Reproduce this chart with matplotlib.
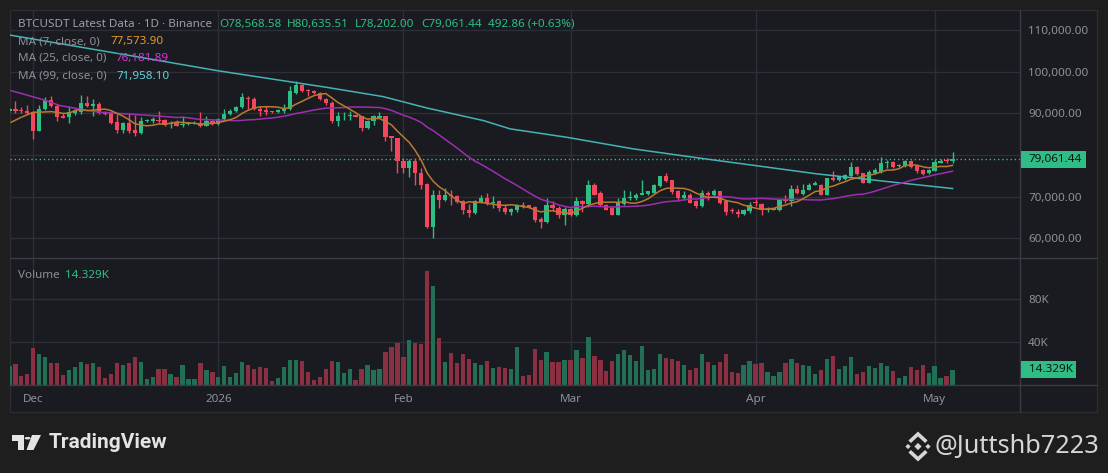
import numpy as np
import pandas as pd
import matplotlib
matplotlib.use("Agg")
import matplotlib.pyplot as plt
import matplotlib.dates as mdates
from matplotlib.patches import Rectangle, Polygon, Circle
from matplotlib.lines import Line2D

plt.rcParams['font.family'] = ['Noto Sans', 'DejaVu Sans']

# ---------------- data ----------------
start_date = "2025-11-27"

opens = [90500, 91100, 90900, 90700, 90400, 85900, 91100, 93300, 91800, 89400,
         89100, 90200, 90300, 92500, 91700, 92400, 90300, 90100, 88000, 86100,
         87800, 86100, 85300, 88100, 88200, 88500, 88500, 87500, 87700, 87300,
         87400, 87700, 87800, 87000, 88300, 87500, 88700, 89900, 90500, 91500,
         93700, 93600, 91100, 90900, 90500, 90300, 90700, 91000, 95000, 96900,
         95600, 95500, 94900, 93500, 92600, 88100, 89300, 89400, 89600, 89300,
         86500, 88100, 89000, 89300, 84500, 84100, 78700, 76900, 78700, 75700,
         73100, 62700, 70500, 69200, 70300, 70100, 68900, 66900, 66100, 68700,
         69800, 68500, 68900, 67300, 66300, 66700, 67900, 67900, 67600, 64600,
         63900, 67900, 67300, 65500, 67000, 65500, 68900, 68300, 72700, 70800,
         68100, 67200, 65700, 68200, 69700, 69800, 70400, 70600, 71000, 72500,
         74900, 73900, 71300, 69600, 70500, 68900, 67700, 70800, 70300, 71300,
         68900, 66700, 66300, 65900, 66500, 68800, 68300, 66900, 66900, 66900,
         69100, 68900, 71900, 70700, 71700, 72900, 72900, 70500, 74500, 73900,
         74300, 74900, 77100, 75700, 73400, 75700, 75900, 78100, 78300, 77400,
         77300, 78700, 77300, 76300, 75700, 76200, 78100, 78800, 78568.58]

highs = [91400, 93100, 91500, 92100, 90500, 92100, 93900, 94100, 92300, 90100,
         91700, 91100, 94500, 94300, 93500, 92700, 90500, 90300, 89900, 87900,
         90000, 89600, 89200, 88600, 89100, 90500, 88700, 88300, 88500, 89500,
         88000, 88100, 90300, 89300, 88500, 88800, 91000, 91100, 91700, 94900,
         94300, 93900, 91700, 91700, 90700, 91100, 92300, 96500, 97900, 97100,
         95900, 95700, 95100, 93700, 92900, 90400, 90300, 90700, 89900, 89500,
         88400, 89600, 90400, 89500, 84700, 84200, 79300, 79100, 79300, 76900,
         73200, 71700, 71500, 72100, 71500, 70400, 69300, 68300, 69100, 70500,
         70900, 70100, 69100, 68000, 67300, 68300, 68700, 68000, 67800, 65100,
         69700, 68900, 67700, 67500, 67300, 69900, 69300, 73900, 73300, 71300,
         68300, 67700, 69600, 71700, 71300, 70900, 73900, 71400, 73100, 75000,
         75800, 74100, 71500, 71300, 70900, 69100, 71500, 71300, 71900, 71400,
         69100, 67300, 67100, 67100, 68700, 69500, 68400, 67500, 67400, 69300,
         70300, 72700, 72700, 73100, 73400, 73700, 73100, 74500, 76100, 75000,
         75500, 78300, 77300, 75800, 76500, 76900, 79500, 78900, 78500, 77900,
         78900, 78900, 77500, 76700, 76600, 79100, 79100, 79300, 80635.51]

lows = [90200, 90100, 90100, 89900, 83800, 85700, 90900, 91600, 88100, 88900,
        87700, 89700, 89900, 91500, 89300, 89900, 89700, 87500, 85300, 85300,
        85300, 84500, 85100, 87900, 87700, 87700, 86900, 86500, 86900, 86800,
        87200, 87500, 86700, 86900, 87300, 87300, 88500, 89700, 90300, 91300,
        91100, 90900, 89300, 89700, 90100, 90100, 90100, 90800, 94700, 95100,
        94300, 94700, 93300, 92000, 87800, 87100, 88500, 88500, 89100, 85900,
        86300, 87300, 88900, 83300, 81100, 75700, 75700, 74700, 72900, 71800,
        62500, 60100, 67300, 68900, 68100, 68500, 65900, 65100, 65900, 68500,
        68000, 67300, 66500, 65800, 65500, 66300, 67300, 67200, 63900, 62500,
        63700, 66700, 64900, 63100, 65300, 65300, 66300, 67500, 70300, 67700,
        66800, 65500, 65500, 68000, 69300, 69300, 70300, 70300, 70900, 72400,
        73500, 70700, 68900, 69300, 68500, 67300, 67500, 69100, 70100, 68300,
        65500, 66100, 65100, 65700, 66100, 67700, 65700, 66300, 66700, 66500,
        68500, 67700, 70700, 70500, 71500, 72700, 70400, 70400, 73700, 73700,
        73900, 74800, 75200, 73300, 73300, 75500, 75700, 76900, 77000, 77100,
        77200, 76800, 75700, 75100, 75500, 76100, 78000, 78100, 78202.00]

closes = [91100, 90500, 90600, 90100, 85900, 91100, 93300, 91700, 89100, 89000,
          90300, 90600, 92500, 91700, 92400, 90100, 89900, 87700, 86100, 87800,
          85900, 85300, 88100, 88400, 88600, 88300, 87300, 87700, 87100, 87500,
          87800, 87800, 87000, 88300, 87500, 88700, 89900, 90500, 91500, 93900,
          93500, 91100, 90700, 90300, 90300, 90900, 91300, 95300, 96900, 95300,
          95300, 94900, 93400, 92500, 88100, 89300, 89500, 89600, 89100, 86500,
          88300, 89300, 89300, 84300, 84100, 78500, 76900, 78700, 75700, 72900,
          62700, 70500, 69200, 70300, 70100, 68700, 66700, 66100, 68900, 69800,
          68500, 68600, 67300, 66300, 67000, 67900, 67700, 67300, 64300, 63900,
          67900, 67300, 65500, 67000, 65500, 68900, 68300, 72700, 70500, 67900,
          66900, 65700, 68400, 69800, 70000, 70500, 70800, 71300, 72700, 74900,
          73700, 71100, 69700, 70500, 68600, 67700, 70800, 70500, 71300, 68600,
          66300, 66500, 65900, 66700, 68100, 68600, 66700, 67100, 67200, 69100,
          68900, 71900, 70900, 71700, 72900, 73300, 70500, 74400, 74100, 74900,
          75100, 77100, 75400, 73400, 75900, 76500, 78200, 78300, 77100, 77600,
          78700, 77100, 76100, 75500, 76500, 78300, 78700, 78570, 79061.44]

volumes_k = [18, 19.7, 8.4, 10.3, 34.7, 29, 26, 20.6, 20.6, 9.4,
             14, 17, 21.6, 19.7, 20.6, 17, 6.6, 10.3, 20.6, 18.8,
             20.6, 26, 21.6, 5.6, 7.5, 15, 15, 10.3, 7.5, 18.8,
             5.6, 5.6, 20.6, 14, 12.2, 7.5, 17.8, 7.5, 11.3, 21.6,
             18.8, 15, 17, 16, 3.8, 6.6, 17, 23.4, 23.4, 22.5,
             12.2, 4.7, 7.5, 15, 22.5, 21.6, 11.3, 15, 4.7, 15,
             18.8, 14, 15, 31, 35.6, 39.4, 26.3, 42.2, 39.4, 38.4,
             106, 92, 44, 21.6, 30, 20.6, 29, 24.4, 20.6, 18.8,
             22.5, 16, 17, 16, 15, 35.6, 8.4, 9.4, 33.8, 23.4,
             31, 21.6, 21.6, 23.4, 23.4, 32.8, 25.3, 45, 27.2, 23.4,
             13.1, 22.5, 29, 32.8, 28, 22.5, 36.6, 14, 15, 29,
             25.3, 24.4, 22.5, 18.8, 14, 16, 29, 21.6, 18.8, 21.6,
             29, 12.2, 11.3, 18.8, 22.5, 19.7, 20.6, 12.2, 8.4, 12.2,
             20.6, 24.4, 20.6, 18.8, 17.8, 10.3, 14, 24.4, 27.2, 15,
             17.8, 26.3, 10.3, 12.2, 17.8, 16, 20.6, 17.8, 13.1, 6.6,
             8.4, 17, 14, 18.8, 11.3, 17.8, 6.6, 8.4, 14.329]

ma7_head_idx = [0.3, 2, 4]
ma7_head_val = [87900, 89100, 90300]
ma25_head_idx = [0.3, 5.7, 8.5, 12.4, 15.2, 19.6]
ma25_head_val = [95500, 93300, 91900, 90900, 90300, 89900]
ma99_idx = [0, 20, 35, 47.6, 53.1, 62.6, 69.9, 79.4, 83.9, 93.3, 104.5, 115.7,
            125.7, 135.2, 146.4, 158]
ma99_val = [108870, 103980, 100260, 97500, 96300, 94060, 91340, 88300, 86300,
            84300, 81500, 79260, 77340, 75500, 73740, 71958.10]

month_ticks = ["2025-12-01", "2026-01-01", "2026-02-01", "2026-03-01",
               "2026-04-01", "2026-05-01"]
month_labels = ["Dec", "2026", "Feb", "Mar", "Apr", "May"]
price_ticks = [60000, 70000, 80000, 90000, 100000, 110000]
volume_ticks_k = [40, 80]
volume_tick_labels = ["40K", "80K"]

# ---------------- styling ----------------
OUTER = '#1e1e1e'
BG = '#1a1b20'
BORDER = '#2d2d2f'
GRID = '#2c2f38'
SEP = '#393c46'
AXTXT = '#8e919a'
LBL = '#8c8f98'
UP = '#2ebd85'
DN = '#f6465d'
VUP = '#226f55'
VDN = '#8b2f42'
MA7_LINE, MA25_LINE, MA99_LINE = '#b87a30', '#9c2fb0', '#45b3b6'
MA7_TXT, MA25_TXT, MA99_TXT = '#e8992e', '#d23ad6', '#5fd4d6'
FS = 8.4

W, H = 1108, 473
fig = plt.figure(figsize=(W / 100, H / 100), dpi=100)
fig.patch.set_facecolor(OUTER)


def fx(x):
    return x / W


def fy(y):
    return 1 - y / H


def ptext(x, y, s, **kw):
    kw.setdefault('va', 'center')
    kw.setdefault('ha', 'left')
    kw.setdefault('fontsize', FS)
    return fig.text(fx(x), fy(y), s, **kw)


def prect(x0, y0, x1, y1, **kw):
    r = Rectangle((fx(x0), fy(y1)), fx(x1) - fx(x0), fy(y0) - fy(y1),
                  transform=fig.transFigure, **kw)
    fig.patches.append(r)
    return r


def pline(xs, ys, **kw):
    ln = Line2D([fx(v) for v in xs], [fy(v) for v in ys],
                transform=fig.transFigure, **kw)
    fig.lines.append(ln)
    return ln


def ppoly(pts, color):
    fig.patches.append(Polygon([(fx(a), fy(b)) for a, b in pts], closed=True,
                               transform=fig.transFigure, facecolor=color,
                               edgecolor='none'))


# chart widget background
prect(10, 10, 1097, 412, facecolor=BG, edgecolor=BORDER, lw=1, zorder=-5)

# axes
ax_p = fig.add_axes([fx(10), fy(258), fx(1020) - fx(10), fy(10) - fy(258)])
ax_v = fig.add_axes([fx(10), fy(385), fx(1020) - fx(10), fy(258) - fy(385)])
for ax in (ax_p, ax_v):
    ax.set_facecolor('none')
    for s in ax.spines.values():
        s.set_visible(False)
    ax.set_axisbelow(True)

o = np.array(opens, float)
h = np.array(highs, float)
l = np.array(lows, float)
c = np.array(closes, float)
v = np.array(volumes_k, float)
n = len(c)
dates = pd.date_range(start_date, periods=n, freq="D")
x = mdates.date2num(dates.values)
x0 = x[0]
up = c >= o
ccol = np.where(up, UP, DN)
vcol = np.where(up, VUP, VDN)

# candles
ax_p.vlines(x, l, h, colors=ccol, lw=1, zorder=3)
body_h = np.maximum(np.abs(c - o), 130)
ax_p.bar(x, body_h, bottom=np.minimum(o, c), width=0.72, color=ccol, lw=0, zorder=4)

# moving averages
ma7 = pd.Series(c).rolling(7).mean().values
ma25 = pd.Series(c).rolling(25).mean().values
ma7_x = np.concatenate([x0 + np.array(ma7_head_idx), x[6:]])
ma7_y = np.concatenate([ma7_head_val, ma7[6:]])
ma25_x = np.concatenate([x0 + np.array(ma25_head_idx), x[24:]])
ma25_y = np.concatenate([ma25_head_val, ma25[24:]])
ax_p.plot(x0 + np.array(ma99_idx), ma99_val, color=MA99_LINE, lw=1.1, zorder=5)
ax_p.plot(ma25_x, ma25_y, color=MA25_LINE, lw=1.1, zorder=5)
ax_p.plot(ma7_x, ma7_y, color=MA7_LINE, lw=1.1, zorder=6)

# last price line
ax_p.axhline(c[-1], color=UP, lw=1, ls=(0, (1, 2)), zorder=2)

# limits
xl = (x0 + 0.1, x0 + 169.3)
ax_p.set_xlim(xl)
ax_v.set_xlim(xl)
ax_p.set_ylim(55262, 114880)
ax_v.set_ylim(0, 118.1)

month_x = mdates.date2num(pd.to_datetime(month_ticks).values)

# price axis
ax_p.set_xticks(month_x)
ax_p.tick_params(axis='x', length=0, labelbottom=False)
ax_p.yaxis.set_ticks_position('right')
ax_p.set_yticks(price_ticks)
ax_p.set_yticklabels([f"{t:,.2f}" for t in price_ticks])
ax_p.tick_params(axis='y', length=0, pad=5.8, labelsize=FS, labelcolor=AXTXT)
ax_p.grid(True, color=GRID, lw=1)

# volume pane
ax_v.bar(x, v, width=0.72, color=vcol, lw=0, zorder=3)
ax_v.set_xticks(month_x)
ax_v.set_xticklabels(month_labels)
ax_v.tick_params(axis='x', length=0, pad=6.3, labelsize=FS, labelcolor=AXTXT)
ax_v.yaxis.set_ticks_position('right')
ax_v.set_yticks(volume_ticks_k)
ax_v.set_yticklabels(volume_tick_labels)
ax_v.tick_params(axis='y', length=0, pad=5.8, labelsize=FS, labelcolor=AXTXT)
ax_v.grid(True, color=GRID, lw=1)

# separators
pline([1020, 1020], [10, 412], color=SEP, lw=1)
pline([10, 1097], [258, 258], color=SEP, lw=1)
pline([10, 1097], [385, 385], color=SEP, lw=1)

# legend texts
ptext(18, 24.5, "BTCUSDT Latest Data · 1D · Binance", color='#9c9fa8')
for xx, s in zip([219, 287, 355, 421, 488],
                 ["O78,568.58", "H80,635.51", "L78,202.00", "C79,061.44",
                  "492.86 (+0.63%)"]):
    ptext(xx, 24.5, s, color=UP)
ptext(18, 41.7, "MA (7, close, 0)", color=LBL)
ptext(110, 41.7, "77,573.90", color=MA7_TXT)
ptext(18, 58.5, "MA (25, close, 0)", color=LBL)
ptext(115, 58.5, "76,181.89", color=MA25_TXT)
ptext(18, 76, "MA (99, close, 0)", color=LBL)
ptext(116, 76, "71,958.10", color=MA99_TXT)
ptext(18, 275, "Volume", color=LBL)
ptext(65, 275, "14.329K", color=UP)

# last value labels on axes
prect(1021, 151, 1086, 168, facecolor=UP, edgecolor='none', zorder=5)
ptext(1028, 159.5, "79,061.44", color='#111318', zorder=6)
prect(1021, 361, 1076, 378, facecolor=UP, edgecolor='none', zorder=5)
ptext(1029, 369.5, "14.329K", color='#111318', zorder=6)

# TradingView logo
LOGO = '#e4e4e4'
ppoly([(12, 435), (24, 435), (24, 450), (18.3, 450), (18.3, 441), (12, 441)], LOGO)
fig.patches.append(Circle((fx(27.6), fy(438.2)), 3.0 / W, transform=fig.transFigure,
                          facecolor=LOGO, edgecolor='none'))
ppoly([(32, 435), (41, 435), (33.5, 450), (26.5, 450)], LOGO)
ptext(48.5, 443, "TradingView", color=LOGO, fontsize=15, fontweight='bold',
      family=['Roboto', 'DejaVu Sans'])

# watermark with Binance-like icon
WM = '#d6d6d6'
cx, cy = 918, 446.5


def diamond(px, py, r):
    ppoly([(px - r, py), (px, py - r), (px + r, py), (px, py + r)], WM)


diamond(cx, cy, 3.6)
diamond(cx - 10, cy, 2.6)
diamond(cx + 10, cy, 2.6)
pline([cx - 7, cx, cx + 7], [cy - 6, cy - 12.5, cy - 6], color=WM, lw=2.6,
      solid_joinstyle='miter')
pline([cx - 7, cx, cx + 7], [cy + 6, cy + 12.5, cy + 6], color=WM, lw=2.6,
      solid_joinstyle='miter')
ptext(935, 446, "@Juttshb7223", color=WM, fontsize=18.2)

fig.savefig("out.png", dpi=100, facecolor=OUTER)
